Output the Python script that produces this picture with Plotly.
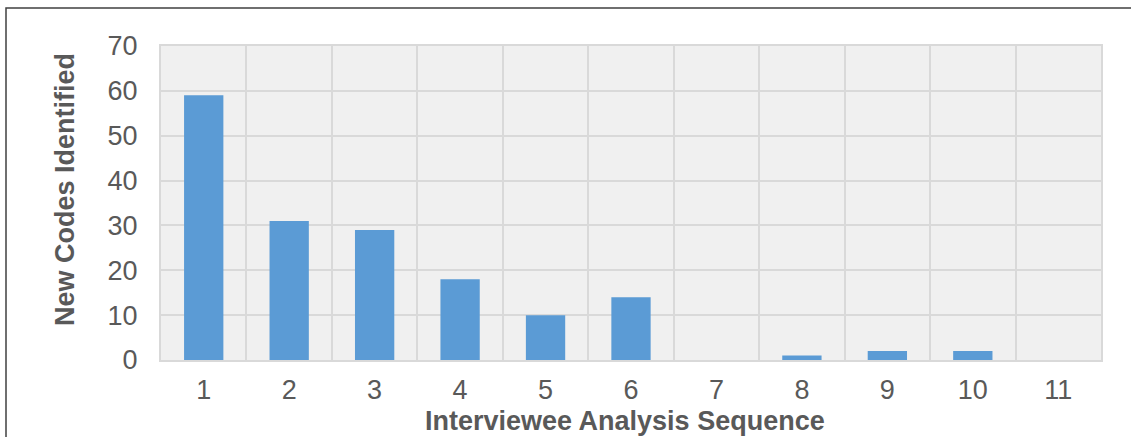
import plotly.graph_objects as go

categories = [1, 2, 3, 4, 5, 6, 7, 8, 9, 10, 11]
new_codes = [59, 31, 29, 18, 10, 14, 0, 1, 2, 2, 0]
y_ticks = [0, 10, 20, 30, 40, 50, 60, 70]
x_title = "Interviewee Analysis Sequence"
y_title = "New Codes Identified"

W, H = 1131, 437
L, R, T, B = 161, 30, 46, 77
pw, ph = W - L - R, H - T - B

def px(x):
    return (x - L) / pw

def py(y):
    return (H - B - y) / ph

font_fam = "Liberation Sans, Arial, sans-serif"
grey = "#595959"
grid = "#d9d9d9"
fs = 27

fig = go.Figure()
fig.add_trace(go.Bar(
    x=categories, y=new_codes,
    marker=dict(color="#5B9BD5", line=dict(width=0)),
    width=0.46,
))

fig.update_layout(
    width=W, height=H,
    margin=dict(l=L, r=R, t=T, b=B, autoexpand=False),
    paper_bgcolor="white",
    plot_bgcolor="#f0f0f0",
    showlegend=False,
    font=dict(family=font_fam, color=grey, size=fs),
    bargap=0.54,
)

fig.update_xaxes(
    range=[0.5, 11.5],
    tickvals=categories,
    ticktext=[str(c) for c in categories],
    showgrid=False,
    zeroline=False,
    automargin=False,
    showline=True, mirror=True, linecolor=grid, linewidth=2,
    ticks="", ticklabelstandoff=5,
    tickfont=dict(size=fs, color=grey),
    minor=dict(tickvals=[c + 0.5 for c in categories[:-1]], showgrid=True,
               gridcolor=grid, gridwidth=1.5, ticks=""),
)
fig.update_yaxes(
    range=[0, 70],
    tickvals=y_ticks,
    showgrid=True, gridcolor=grid, gridwidth=1.5,
    zeroline=False,
    automargin=False,
    showline=True, mirror=True, linecolor=grid, linewidth=2,
    ticks="", ticklabelstandoff=16,
    tickfont=dict(size=fs, color=grey),
)

# axis titles
fig.add_annotation(
    text=f"<b>{x_title}</b>", xref="paper", yref="paper",
    x=px(625), y=py(421), xanchor="center", yanchor="middle",
    showarrow=False, font=dict(size=27, color=grey),
)
fig.add_annotation(
    text=f"<b>{y_title}</b>", xref="paper", yref="paper",
    x=px(65), y=py(190), xanchor="center", yanchor="middle",
    textangle=-90, showarrow=False, font=dict(size=27, color=grey),
)

# outer chart border (top and left visible, others clipped by the image)
fig.add_shape(
    type="rect", xref="paper", yref="paper",
    x0=px(6), x1=px(W + 10),
    y0=py(H + 10), y1=py(8),
    line=dict(color="#404040", width=1.5),
    fillcolor="rgba(0,0,0,0)", layer="below",
)

fig.write_html("out.html", config={"displayModeBar": False},
               post_script="document.body.style.margin='0';")
